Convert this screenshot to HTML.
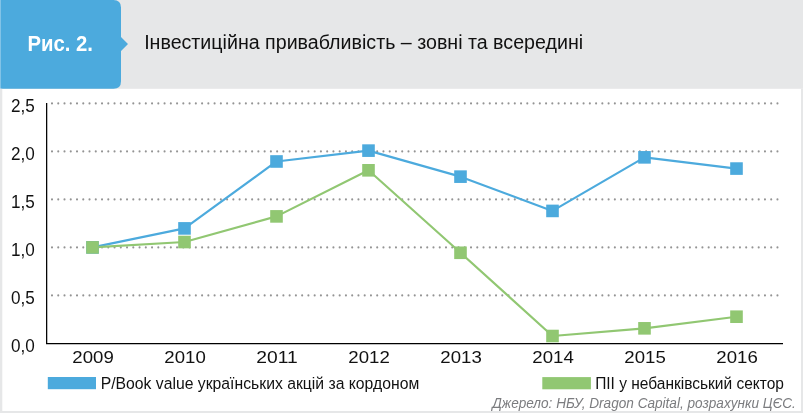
<!DOCTYPE html>
<html><head><meta charset="utf-8"><style>
html,body{margin:0;padding:0;background:#fff;width:803px;height:413px;overflow:hidden}
svg{display:block;will-change:transform}
text{font-family:"Liberation Sans",sans-serif}
.t{font-size:17.5px;fill:#111}
.xl{font-size:16.6px;fill:#111}
.lg{font-size:16.9px;fill:#111}
.src{font-size:15.4px;font-style:italic;fill:#7b7c7f}
.fig{font-size:21.5px;font-weight:bold;fill:#fff}
.title{font-size:20px;fill:#111}
</style></head><body>
<svg width="803" height="413" viewBox="0 0 803 413">
<rect x="0" y="0" width="803" height="88.8" fill="#e6e7e8"/>
<path d="M0 0 H113.5 Q121 0 121 7.5 V37 L128 44 L121 51 V81.3 Q121 88.8 113.5 88.8 H0 Z" fill="#4caadd"/>
<text x="27.43" y="51.10" textLength="65.47" lengthAdjust="spacingAndGlyphs" class="fig">Рис. 2.</text>
<text x="144.14" y="48.70" textLength="438.97" lengthAdjust="spacingAndGlyphs" class="title">Інвестиційна привабливість – зовні та всередині</text>
<rect x="0" y="0" width="1" height="89" fill="#fff" fill-opacity="0.3"/>
<rect x="0" y="88.8" width="2.3" height="325" fill="#e6e7e8"/>
<rect x="801" y="88.8" width="2" height="325" fill="#e6e7e8"/>
<rect x="0" y="411" width="803" height="2" fill="#e6e7e8"/>

<path d="M52.00 295.40h0 M58.25 295.40h0 M64.51 295.40h0 M70.76 295.40h0 M77.02 295.40h0 M83.27 295.40h0 M89.52 295.40h0 M95.78 295.40h0 M102.03 295.40h0 M108.29 295.40h0 M114.54 295.40h0 M120.79 295.40h0 M127.05 295.40h0 M133.30 295.40h0 M139.56 295.40h0 M145.81 295.40h0 M152.06 295.40h0 M158.32 295.40h0 M164.57 295.40h0 M170.83 295.40h0 M177.08 295.40h0 M183.33 295.40h0 M189.59 295.40h0 M195.84 295.40h0 M202.10 295.40h0 M208.35 295.40h0 M214.60 295.40h0 M220.86 295.40h0 M227.11 295.40h0 M233.37 295.40h0 M239.62 295.40h0 M245.87 295.40h0 M252.13 295.40h0 M258.38 295.40h0 M264.64 295.40h0 M270.89 295.40h0 M277.14 295.40h0 M283.40 295.40h0 M289.65 295.40h0 M295.91 295.40h0 M302.16 295.40h0 M308.41 295.40h0 M314.67 295.40h0 M320.92 295.40h0 M327.18 295.40h0 M333.43 295.40h0 M339.68 295.40h0 M345.94 295.40h0 M352.19 295.40h0 M358.45 295.40h0 M364.70 295.40h0 M370.95 295.40h0 M377.21 295.40h0 M383.46 295.40h0 M389.72 295.40h0 M395.97 295.40h0 M402.22 295.40h0 M408.48 295.40h0 M414.73 295.40h0 M420.99 295.40h0 M427.24 295.40h0 M433.49 295.40h0 M439.75 295.40h0 M446.00 295.40h0 M452.26 295.40h0 M458.51 295.40h0 M464.76 295.40h0 M471.02 295.40h0 M477.27 295.40h0 M483.53 295.40h0 M489.78 295.40h0 M496.03 295.40h0 M502.29 295.40h0 M508.54 295.40h0 M514.80 295.40h0 M521.05 295.40h0 M527.30 295.40h0 M533.56 295.40h0 M539.81 295.40h0 M546.07 295.40h0 M552.32 295.40h0 M558.57 295.40h0 M564.83 295.40h0 M571.08 295.40h0 M577.34 295.40h0 M583.59 295.40h0 M589.84 295.40h0 M596.10 295.40h0 M602.35 295.40h0 M608.61 295.40h0 M614.86 295.40h0 M621.11 295.40h0 M627.37 295.40h0 M633.62 295.40h0 M639.88 295.40h0 M646.13 295.40h0 M652.38 295.40h0 M658.64 295.40h0 M664.89 295.40h0 M671.15 295.40h0 M677.40 295.40h0 M683.65 295.40h0 M689.91 295.40h0 M696.16 295.40h0 M702.42 295.40h0 M708.67 295.40h0 M714.92 295.40h0 M721.18 295.40h0 M727.43 295.40h0 M733.69 295.40h0 M739.94 295.40h0 M746.19 295.40h0 M752.45 295.40h0 M758.70 295.40h0 M764.96 295.40h0 M771.21 295.40h0 M777.46 295.40h0" stroke="#949494" stroke-width="2.1" stroke-linecap="round"/>
<path d="M52.00 247.40h0 M58.25 247.40h0 M64.51 247.40h0 M70.76 247.40h0 M77.02 247.40h0 M83.27 247.40h0 M89.52 247.40h0 M95.78 247.40h0 M102.03 247.40h0 M108.29 247.40h0 M114.54 247.40h0 M120.79 247.40h0 M127.05 247.40h0 M133.30 247.40h0 M139.56 247.40h0 M145.81 247.40h0 M152.06 247.40h0 M158.32 247.40h0 M164.57 247.40h0 M170.83 247.40h0 M177.08 247.40h0 M183.33 247.40h0 M189.59 247.40h0 M195.84 247.40h0 M202.10 247.40h0 M208.35 247.40h0 M214.60 247.40h0 M220.86 247.40h0 M227.11 247.40h0 M233.37 247.40h0 M239.62 247.40h0 M245.87 247.40h0 M252.13 247.40h0 M258.38 247.40h0 M264.64 247.40h0 M270.89 247.40h0 M277.14 247.40h0 M283.40 247.40h0 M289.65 247.40h0 M295.91 247.40h0 M302.16 247.40h0 M308.41 247.40h0 M314.67 247.40h0 M320.92 247.40h0 M327.18 247.40h0 M333.43 247.40h0 M339.68 247.40h0 M345.94 247.40h0 M352.19 247.40h0 M358.45 247.40h0 M364.70 247.40h0 M370.95 247.40h0 M377.21 247.40h0 M383.46 247.40h0 M389.72 247.40h0 M395.97 247.40h0 M402.22 247.40h0 M408.48 247.40h0 M414.73 247.40h0 M420.99 247.40h0 M427.24 247.40h0 M433.49 247.40h0 M439.75 247.40h0 M446.00 247.40h0 M452.26 247.40h0 M458.51 247.40h0 M464.76 247.40h0 M471.02 247.40h0 M477.27 247.40h0 M483.53 247.40h0 M489.78 247.40h0 M496.03 247.40h0 M502.29 247.40h0 M508.54 247.40h0 M514.80 247.40h0 M521.05 247.40h0 M527.30 247.40h0 M533.56 247.40h0 M539.81 247.40h0 M546.07 247.40h0 M552.32 247.40h0 M558.57 247.40h0 M564.83 247.40h0 M571.08 247.40h0 M577.34 247.40h0 M583.59 247.40h0 M589.84 247.40h0 M596.10 247.40h0 M602.35 247.40h0 M608.61 247.40h0 M614.86 247.40h0 M621.11 247.40h0 M627.37 247.40h0 M633.62 247.40h0 M639.88 247.40h0 M646.13 247.40h0 M652.38 247.40h0 M658.64 247.40h0 M664.89 247.40h0 M671.15 247.40h0 M677.40 247.40h0 M683.65 247.40h0 M689.91 247.40h0 M696.16 247.40h0 M702.42 247.40h0 M708.67 247.40h0 M714.92 247.40h0 M721.18 247.40h0 M727.43 247.40h0 M733.69 247.40h0 M739.94 247.40h0 M746.19 247.40h0 M752.45 247.40h0 M758.70 247.40h0 M764.96 247.40h0 M771.21 247.40h0 M777.46 247.40h0" stroke="#949494" stroke-width="2.1" stroke-linecap="round"/>
<path d="M52.00 199.40h0 M58.25 199.40h0 M64.51 199.40h0 M70.76 199.40h0 M77.02 199.40h0 M83.27 199.40h0 M89.52 199.40h0 M95.78 199.40h0 M102.03 199.40h0 M108.29 199.40h0 M114.54 199.40h0 M120.79 199.40h0 M127.05 199.40h0 M133.30 199.40h0 M139.56 199.40h0 M145.81 199.40h0 M152.06 199.40h0 M158.32 199.40h0 M164.57 199.40h0 M170.83 199.40h0 M177.08 199.40h0 M183.33 199.40h0 M189.59 199.40h0 M195.84 199.40h0 M202.10 199.40h0 M208.35 199.40h0 M214.60 199.40h0 M220.86 199.40h0 M227.11 199.40h0 M233.37 199.40h0 M239.62 199.40h0 M245.87 199.40h0 M252.13 199.40h0 M258.38 199.40h0 M264.64 199.40h0 M270.89 199.40h0 M277.14 199.40h0 M283.40 199.40h0 M289.65 199.40h0 M295.91 199.40h0 M302.16 199.40h0 M308.41 199.40h0 M314.67 199.40h0 M320.92 199.40h0 M327.18 199.40h0 M333.43 199.40h0 M339.68 199.40h0 M345.94 199.40h0 M352.19 199.40h0 M358.45 199.40h0 M364.70 199.40h0 M370.95 199.40h0 M377.21 199.40h0 M383.46 199.40h0 M389.72 199.40h0 M395.97 199.40h0 M402.22 199.40h0 M408.48 199.40h0 M414.73 199.40h0 M420.99 199.40h0 M427.24 199.40h0 M433.49 199.40h0 M439.75 199.40h0 M446.00 199.40h0 M452.26 199.40h0 M458.51 199.40h0 M464.76 199.40h0 M471.02 199.40h0 M477.27 199.40h0 M483.53 199.40h0 M489.78 199.40h0 M496.03 199.40h0 M502.29 199.40h0 M508.54 199.40h0 M514.80 199.40h0 M521.05 199.40h0 M527.30 199.40h0 M533.56 199.40h0 M539.81 199.40h0 M546.07 199.40h0 M552.32 199.40h0 M558.57 199.40h0 M564.83 199.40h0 M571.08 199.40h0 M577.34 199.40h0 M583.59 199.40h0 M589.84 199.40h0 M596.10 199.40h0 M602.35 199.40h0 M608.61 199.40h0 M614.86 199.40h0 M621.11 199.40h0 M627.37 199.40h0 M633.62 199.40h0 M639.88 199.40h0 M646.13 199.40h0 M652.38 199.40h0 M658.64 199.40h0 M664.89 199.40h0 M671.15 199.40h0 M677.40 199.40h0 M683.65 199.40h0 M689.91 199.40h0 M696.16 199.40h0 M702.42 199.40h0 M708.67 199.40h0 M714.92 199.40h0 M721.18 199.40h0 M727.43 199.40h0 M733.69 199.40h0 M739.94 199.40h0 M746.19 199.40h0 M752.45 199.40h0 M758.70 199.40h0 M764.96 199.40h0 M771.21 199.40h0 M777.46 199.40h0" stroke="#949494" stroke-width="2.1" stroke-linecap="round"/>
<path d="M52.00 151.40h0 M58.25 151.40h0 M64.51 151.40h0 M70.76 151.40h0 M77.02 151.40h0 M83.27 151.40h0 M89.52 151.40h0 M95.78 151.40h0 M102.03 151.40h0 M108.29 151.40h0 M114.54 151.40h0 M120.79 151.40h0 M127.05 151.40h0 M133.30 151.40h0 M139.56 151.40h0 M145.81 151.40h0 M152.06 151.40h0 M158.32 151.40h0 M164.57 151.40h0 M170.83 151.40h0 M177.08 151.40h0 M183.33 151.40h0 M189.59 151.40h0 M195.84 151.40h0 M202.10 151.40h0 M208.35 151.40h0 M214.60 151.40h0 M220.86 151.40h0 M227.11 151.40h0 M233.37 151.40h0 M239.62 151.40h0 M245.87 151.40h0 M252.13 151.40h0 M258.38 151.40h0 M264.64 151.40h0 M270.89 151.40h0 M277.14 151.40h0 M283.40 151.40h0 M289.65 151.40h0 M295.91 151.40h0 M302.16 151.40h0 M308.41 151.40h0 M314.67 151.40h0 M320.92 151.40h0 M327.18 151.40h0 M333.43 151.40h0 M339.68 151.40h0 M345.94 151.40h0 M352.19 151.40h0 M358.45 151.40h0 M364.70 151.40h0 M370.95 151.40h0 M377.21 151.40h0 M383.46 151.40h0 M389.72 151.40h0 M395.97 151.40h0 M402.22 151.40h0 M408.48 151.40h0 M414.73 151.40h0 M420.99 151.40h0 M427.24 151.40h0 M433.49 151.40h0 M439.75 151.40h0 M446.00 151.40h0 M452.26 151.40h0 M458.51 151.40h0 M464.76 151.40h0 M471.02 151.40h0 M477.27 151.40h0 M483.53 151.40h0 M489.78 151.40h0 M496.03 151.40h0 M502.29 151.40h0 M508.54 151.40h0 M514.80 151.40h0 M521.05 151.40h0 M527.30 151.40h0 M533.56 151.40h0 M539.81 151.40h0 M546.07 151.40h0 M552.32 151.40h0 M558.57 151.40h0 M564.83 151.40h0 M571.08 151.40h0 M577.34 151.40h0 M583.59 151.40h0 M589.84 151.40h0 M596.10 151.40h0 M602.35 151.40h0 M608.61 151.40h0 M614.86 151.40h0 M621.11 151.40h0 M627.37 151.40h0 M633.62 151.40h0 M639.88 151.40h0 M646.13 151.40h0 M652.38 151.40h0 M658.64 151.40h0 M664.89 151.40h0 M671.15 151.40h0 M677.40 151.40h0 M683.65 151.40h0 M689.91 151.40h0 M696.16 151.40h0 M702.42 151.40h0 M708.67 151.40h0 M714.92 151.40h0 M721.18 151.40h0 M727.43 151.40h0 M733.69 151.40h0 M739.94 151.40h0 M746.19 151.40h0 M752.45 151.40h0 M758.70 151.40h0 M764.96 151.40h0 M771.21 151.40h0 M777.46 151.40h0" stroke="#949494" stroke-width="2.1" stroke-linecap="round"/>
<path d="M52.00 103.40h0 M58.25 103.40h0 M64.51 103.40h0 M70.76 103.40h0 M77.02 103.40h0 M83.27 103.40h0 M89.52 103.40h0 M95.78 103.40h0 M102.03 103.40h0 M108.29 103.40h0 M114.54 103.40h0 M120.79 103.40h0 M127.05 103.40h0 M133.30 103.40h0 M139.56 103.40h0 M145.81 103.40h0 M152.06 103.40h0 M158.32 103.40h0 M164.57 103.40h0 M170.83 103.40h0 M177.08 103.40h0 M183.33 103.40h0 M189.59 103.40h0 M195.84 103.40h0 M202.10 103.40h0 M208.35 103.40h0 M214.60 103.40h0 M220.86 103.40h0 M227.11 103.40h0 M233.37 103.40h0 M239.62 103.40h0 M245.87 103.40h0 M252.13 103.40h0 M258.38 103.40h0 M264.64 103.40h0 M270.89 103.40h0 M277.14 103.40h0 M283.40 103.40h0 M289.65 103.40h0 M295.91 103.40h0 M302.16 103.40h0 M308.41 103.40h0 M314.67 103.40h0 M320.92 103.40h0 M327.18 103.40h0 M333.43 103.40h0 M339.68 103.40h0 M345.94 103.40h0 M352.19 103.40h0 M358.45 103.40h0 M364.70 103.40h0 M370.95 103.40h0 M377.21 103.40h0 M383.46 103.40h0 M389.72 103.40h0 M395.97 103.40h0 M402.22 103.40h0 M408.48 103.40h0 M414.73 103.40h0 M420.99 103.40h0 M427.24 103.40h0 M433.49 103.40h0 M439.75 103.40h0 M446.00 103.40h0 M452.26 103.40h0 M458.51 103.40h0 M464.76 103.40h0 M471.02 103.40h0 M477.27 103.40h0 M483.53 103.40h0 M489.78 103.40h0 M496.03 103.40h0 M502.29 103.40h0 M508.54 103.40h0 M514.80 103.40h0 M521.05 103.40h0 M527.30 103.40h0 M533.56 103.40h0 M539.81 103.40h0 M546.07 103.40h0 M552.32 103.40h0 M558.57 103.40h0 M564.83 103.40h0 M571.08 103.40h0 M577.34 103.40h0 M583.59 103.40h0 M589.84 103.40h0 M596.10 103.40h0 M602.35 103.40h0 M608.61 103.40h0 M614.86 103.40h0 M621.11 103.40h0 M627.37 103.40h0 M633.62 103.40h0 M639.88 103.40h0 M646.13 103.40h0 M652.38 103.40h0 M658.64 103.40h0 M664.89 103.40h0 M671.15 103.40h0 M677.40 103.40h0 M683.65 103.40h0 M689.91 103.40h0 M696.16 103.40h0 M702.42 103.40h0 M708.67 103.40h0 M714.92 103.40h0 M721.18 103.40h0 M727.43 103.40h0 M733.69 103.40h0 M739.94 103.40h0 M746.19 103.40h0 M752.45 103.40h0 M758.70 103.40h0 M764.96 103.40h0 M771.21 103.40h0 M777.46 103.40h0" stroke="#949494" stroke-width="2.1" stroke-linecap="round"/>
<path d="M46.65 103 V343.5 H783" fill="none" stroke="#000" stroke-width="1.25"/>
<polyline points="92.50,247.40 184.50,228.39 276.50,161.48 368.50,150.63 460.50,176.65 552.50,210.92 644.50,157.35 736.50,168.58" fill="none" stroke="#4caadd" stroke-width="2.15" stroke-linejoin="round"/>
<polyline points="92.50,247.40 184.50,242.02 276.50,216.39 368.50,170.31 460.50,252.78 552.50,336.01 644.50,328.33 736.50,316.71" fill="none" stroke="#91c772" stroke-width="2.15" stroke-linejoin="round"/>
<rect x="86.20" y="241.10" width="12.6" height="12.6" fill="#4caadd"/>
<rect x="178.20" y="222.09" width="12.6" height="12.6" fill="#4caadd"/>
<rect x="270.20" y="155.18" width="12.6" height="12.6" fill="#4caadd"/>
<rect x="362.20" y="144.33" width="12.6" height="12.6" fill="#4caadd"/>
<rect x="454.20" y="170.35" width="12.6" height="12.6" fill="#4caadd"/>
<rect x="546.20" y="204.62" width="12.6" height="12.6" fill="#4caadd"/>
<rect x="638.20" y="151.05" width="12.6" height="12.6" fill="#4caadd"/>
<rect x="730.20" y="162.28" width="12.6" height="12.6" fill="#4caadd"/>
<rect x="86.20" y="241.10" width="12.6" height="12.6" fill="#91c772"/>
<rect x="178.20" y="235.72" width="12.6" height="12.6" fill="#91c772"/>
<rect x="270.20" y="210.09" width="12.6" height="12.6" fill="#91c772"/>
<rect x="362.20" y="164.01" width="12.6" height="12.6" fill="#91c772"/>
<rect x="454.20" y="246.48" width="12.6" height="12.6" fill="#91c772"/>
<rect x="546.20" y="329.71" width="12.6" height="12.6" fill="#91c772"/>
<rect x="638.20" y="322.03" width="12.6" height="12.6" fill="#91c772"/>
<rect x="730.20" y="310.41" width="12.6" height="12.6" fill="#91c772"/>
<text x="10.97" y="352.00" textLength="23.79" lengthAdjust="spacingAndGlyphs" class="t">0,0</text>
<text x="10.97" y="304.00" textLength="23.79" lengthAdjust="spacingAndGlyphs" class="t">0,5</text>
<text x="10.97" y="256.00" textLength="23.79" lengthAdjust="spacingAndGlyphs" class="t">1,0</text>
<text x="10.97" y="208.00" textLength="23.79" lengthAdjust="spacingAndGlyphs" class="t">1,5</text>
<text x="10.97" y="160.00" textLength="23.79" lengthAdjust="spacingAndGlyphs" class="t">2,0</text>
<text x="10.97" y="112.00" textLength="23.79" lengthAdjust="spacingAndGlyphs" class="t">2,5</text>
<text x="72.34" y="363.20" textLength="41.42" lengthAdjust="spacingAndGlyphs" class="xl">2009</text>
<text x="164.34" y="363.20" textLength="41.42" lengthAdjust="spacingAndGlyphs" class="xl">2010</text>
<text x="256.34" y="363.20" textLength="41.42" lengthAdjust="spacingAndGlyphs" class="xl">2011</text>
<text x="348.34" y="363.20" textLength="41.42" lengthAdjust="spacingAndGlyphs" class="xl">2012</text>
<text x="440.34" y="363.20" textLength="41.42" lengthAdjust="spacingAndGlyphs" class="xl">2013</text>
<text x="532.34" y="363.20" textLength="41.42" lengthAdjust="spacingAndGlyphs" class="xl">2014</text>
<text x="624.34" y="363.20" textLength="41.42" lengthAdjust="spacingAndGlyphs" class="xl">2015</text>
<text x="716.34" y="363.20" textLength="41.42" lengthAdjust="spacingAndGlyphs" class="xl">2016</text>
<rect x="47.8" y="377" width="48.2" height="12.2" fill="#4caadd"/>
<rect x="542.3" y="377.1" width="48.6" height="12.2" fill="#91c772"/>
<text x="100.75" y="389.00" textLength="318.47" lengthAdjust="spacingAndGlyphs" class="lg">P/Book value українських акцій за кордоном</text>
<text x="595.17" y="389.00" textLength="188.84" lengthAdjust="spacingAndGlyphs" class="lg">ПІІ у небанківський сектор</text>
<text x="492.21" y="408.20" textLength="303.68" lengthAdjust="spacingAndGlyphs" class="src">Джерело: НБУ, Dragon Capital, розрахунки ЦЄС.</text>
</svg>
</body></html>
